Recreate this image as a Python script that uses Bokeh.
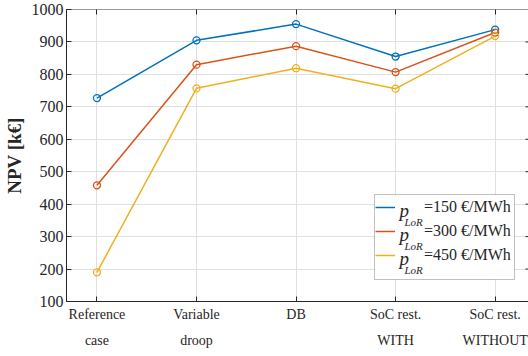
from bokeh.plotting import figure
from bokeh.models import (FixedTicker, LinearAxis, Range1d, Legend, LegendItem,
                          BoxAnnotation, Label)
from bokeh.embed import file_html
from bokeh.resources import INLINE

categories = ["Reference\ncase", "Variable\ndroop", "DB", "SoC rest.\nWITH", "SoC rest.\nWITHOUT"]
x_pos = [1, 2, 3, 4, 5]
npv_150 = [727, 905, 955, 855, 938]
npv_300 = [458, 830, 887, 807, 929]
npv_450 = [190, 757, 819, 756, 918]
y_ticks = [100, 200, 300, 400, 500, 600, 700, 800, 900, 1000]
legend_values = ["=150 €/MWh", "=300 €/MWh", "=450 €/MWh"]
colors = ["#0072BD", "#D95319", "#EDB120"]

FONT = "Liberation Serif"
DARK = "#262626"
X_START, X_END = 0.694, 5.355

p = figure(frame_width=464, frame_height=292, output_backend="svg", toolbar_location=None,
           x_range=Range1d(X_START, X_END), y_range=Range1d(100, 1000),
           min_border_left=63, min_border_right=0, min_border_top=9, min_border_bottom=55)
p.background_fill_color = "white"
p.border_fill_color = "white"
p.outline_line_color = "#595959"
p.outline_line_width = 1

# axes
for ax in (p.xaxis[0], p.yaxis[0]):
    ax.major_tick_in = 5
    ax.major_tick_out = 0
    ax.minor_tick_line_color = None
    ax.axis_line_color = DARK
    ax.major_tick_line_color = DARK
    ax.major_label_text_font = FONT
    ax.major_label_text_font_size = "16px"
    ax.major_label_text_color = DARK

p.xaxis.ticker = FixedTicker(ticks=x_pos)
p.xaxis.major_label_overrides = {x: c for x, c in zip(x_pos, categories)}
p.xaxis.major_label_text_font_size = "14px"
p.xaxis.major_label_standoff = 5
p.xaxis.major_label_text_line_height = 1.75
p.yaxis.ticker = FixedTicker(ticks=y_ticks)
p.yaxis.major_label_standoff = 3
p.yaxis.axis_label = "NPV [k€]"
p.yaxis.axis_label_text_font = FONT
p.yaxis.axis_label_text_font_style = "bold"
p.yaxis.axis_label_text_font_size = "19px"
p.yaxis.axis_label_text_color = DARK
p.yaxis.axis_label_standoff = 4

# mirrored ticks on top (no labels)
top_ax = LinearAxis(ticker=FixedTicker(ticks=x_pos),
                    major_label_overrides={t: "" for t in x_pos},
                    major_tick_in=5, major_tick_out=0, minor_tick_line_color=None,
                    major_label_standoff=0, axis_label_standoff=0,
                    axis_line_color="#9a9a9a", major_tick_line_color=DARK)
p.add_layout(top_ax, "above")

p.xgrid.ticker = FixedTicker(ticks=x_pos)
p.ygrid.ticker = FixedTicker(ticks=y_ticks)
p.grid.grid_line_color = "#e0e0e0"
p.grid.grid_line_width = 1

# mirrored ticks on right edge (inward, ~5px long)
tick_len = 5 / 99.5
p.segment(x0=[X_END - tick_len] * len(y_ticks), y0=y_ticks,
          x1=[X_END] * len(y_ticks), y1=y_ticks, line_color=DARK, line_width=1)

renderers = []
for vals, col in zip([npv_150, npv_300, npv_450], colors):
    r = p.line(x_pos, vals, line_color=col, line_width=1.5)
    p.scatter(x_pos, vals, marker="circle", size=7, fill_color=None, line_color=col, line_width=1.3)
    renderers.append(r)

# legend frame
box = BoxAnnotation(left=308, right=448, top=107, bottom=22,
                    left_units="screen", right_units="screen", top_units="screen", bottom_units="screen",
                    fill_color="white", fill_alpha=1.0, line_color="#333333", line_width=1,
                    level="annotation")
p.add_layout(box)

legend = Legend(items=[LegendItem(label=t, renderers=[r]) for t, r in zip(legend_values, renderers)],
                location=(309, 34), orientation="vertical",
                padding=0, spacing=0, margin=0,
                glyph_width=20, glyph_height=24, label_height=24, label_standoff=29,
                label_text_font=FONT, label_text_font_size="16px", label_text_color=DARK,
                border_line_alpha=0, background_fill_alpha=0)
p.add_layout(legend)

row_y = [210, 234, 258]
for yb in row_y:
    p.add_layout(Label(x=333, y=301 - yb, x_units="screen", y_units="screen", text="p",
                       text_font=FONT, text_font_style="italic", text_font_size="19px",
                       text_color=DARK, text_baseline="alphabetic"))
    p.add_layout(Label(x=338, y=301 - (yb + 11), x_units="screen", y_units="screen", text="LoR",
                       text_font=FONT, text_font_style="italic", text_font_size="11px",
                       text_color=DARK, text_baseline="alphabetic"))

open("out.html", "w").write(file_html(p, INLINE))
